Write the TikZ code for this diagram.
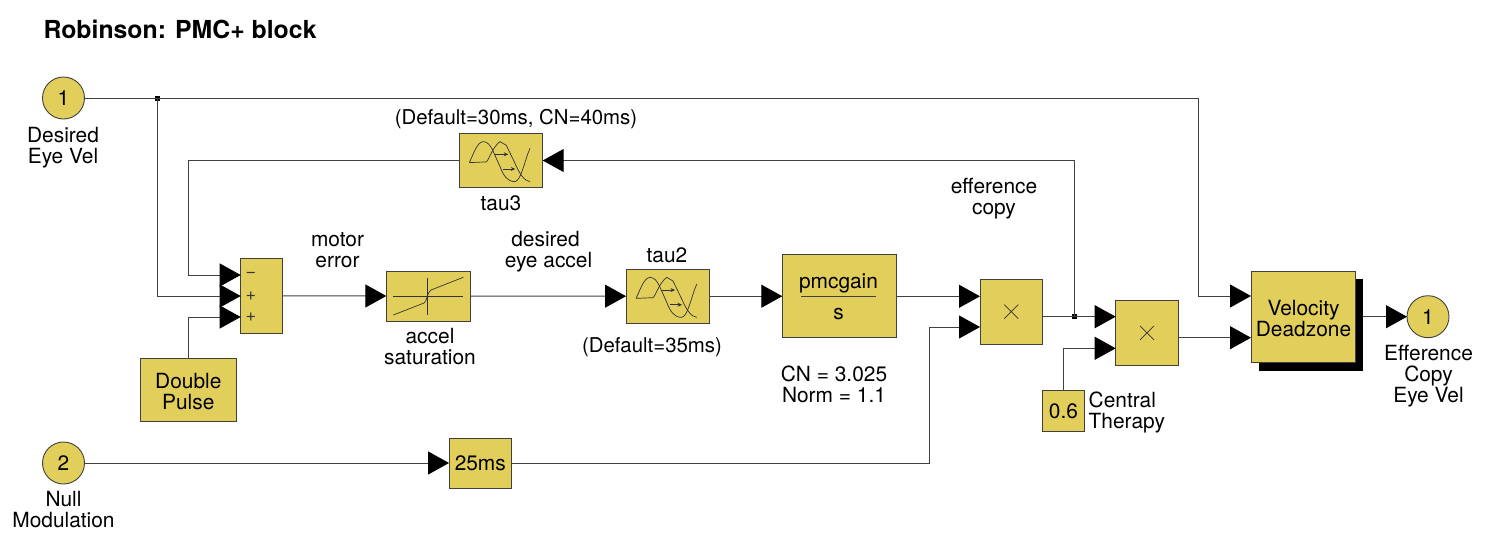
\documentclass[tikz,border=0pt]{standalone}
\usepackage{fontspec}
\setmainfont{TeX Gyre Heros}
\usetikzlibrary{arrows.meta,calc}
\definecolor{blockfill}{HTML}{E2CF5B}
\definecolor{wirecol}{HTML}{404040}
\tikzset{
  wire/.style={draw=wirecol,line width=1pt},
  feed/.style={wire,-{Triangle[length=21pt,width=23pt,fill=black,color=black]}},
  blockbox/.style={draw=wirecol,fill=blockfill,line width=0.9pt,rectangle,inner sep=0pt,outer sep=0pt,
     font=\fontsize{20.9}{21}\selectfont,align=center,text=black},
  portcircle/.style={blockbox,circle,minimum size=42pt},
  note/.style={inner sep=0pt,outer sep=0pt,font=\fontsize{20.9}{21}\selectfont,align=center,text=black},
  paramnote/.style={note,font=\fontsize{20.4}{21}\selectfont},
  icon/.style={draw=wirecol!80!black,line width=0.7pt},
  dotjoin/.style={fill=black,rectangle,minimum size=5pt,inner sep=0pt,outer sep=0pt},
  tinytip/.style={icon,-{Stealth[length=4.5pt,width=4pt]}},
  pics/delayicon/.style={code={
    \draw[icon] (10,29.3) -- (15.7,16.7) .. controls (18,12) and (21,8.3) .. (24,8.3) .. controls (28,8.3) and (31,12) .. (33.3,16.7)
      -- (40.7,33.3) .. controls (44,42) and (48,48.5) .. (55.7,48.3) .. controls (62,47) and (65,28) .. (70.7,15);
    \draw[icon] (10,29.3) -- (27,28.6) .. controls (30,26) and (33,14) .. (40.7,8.3)
      -- (47,12) -- (55.7,30) .. controls (60,40) and (65,48) .. (70.7,48.3);
    \draw[tinytip] (35.7,21) -- (49,21);
    \draw[tinytip] (44,35.7) -- (56,35.7);
  }},
  pics/crossicon/.style={code={
    \draw[icon] (-7,-7) -- (7,7) (-7,7) -- (7,-7);
  }}
}
\begin{document}
\begin{tikzpicture}[x=1pt,y=-1pt]
\useasboundingbox[fill=white] (0,0) rectangle (1500,544);

\node[inner sep=0pt,anchor=west,font=\fontsize{24.8}{26}\selectfont\bfseries] (title) at (43.3,29) {Robinson: PMC+ block};

% shadow first
\node[fill=black,inner sep=0pt,outer sep=0pt,minimum width=104pt,minimum height=91.7pt] (vshadow) at (1311.3,325.2) {};

% ports and blocks
\node[portcircle] (inA) at (63.5,98) {1};
\node[portcircle] (inB) at (63.5,463) {2};
\node[portcircle] (outA) at (1428,316.7) {1};
\node[blockbox,minimum width=41.3pt,minimum height=74.3pt] (sum) at (261.4,295.9) {};
\node[blockbox,minimum width=96pt,minimum height=62.3pt] (dpulse) at (188.7,389.9) {};
\node[note] (dpulseT) at (188.3,391.5) {Double\\Pulse};
\node[blockbox,minimum width=83.4pt,minimum height=54.4pt] (tauC) at (501,160.5) {};
\node[blockbox,minimum width=83.7pt,minimum height=50pt] (sat) at (428.2,296) {};
\node[blockbox,minimum width=83.3pt,minimum height=54.3pt] (tauB) at (667.7,296.2) {};
\node[blockbox,minimum width=114.4pt,minimum height=83pt] (gain) at (839.5,296.2) {};
\node[blockbox,minimum width=62.7pt,minimum height=64.7pt] (prodA) at (1011.3,311.6) {};
\node[blockbox,minimum width=62.6pt,minimum height=64.3pt] (prodB) at (1147,332.8) {};
\node[blockbox,minimum width=41.6pt,minimum height=41.7pt] (const) at (1063.5,410.8) {0.6};
\node[blockbox,minimum width=104.3pt,minimum height=91.7pt] (vdz) at (1303.2,316.8) {};
\node[note] (vdzT) at (1303.5,319) {Velocity\\Deadzone};
\node[blockbox,minimum width=62.5pt,minimum height=50pt] (delay) at (480.3,463) {25ms};

% block interiors
\pic at (tauC.north west) {delayicon};
\pic at (tauB.north west) {delayicon};
\pic at (prodA.center) {crossicon};
\pic at (prodB.center) {crossicon};
\draw[icon] (392.7,296) -- (463,296) (427.7,277.7) -- (427.7,315);
\draw[icon] (393.3,315) -- (424,303) .. controls (427,302) and (427,292) .. (431,290) -- (463.3,277.3);
\draw[wirecol,line width=0.9pt] (801.3,296) -- (875.7,296);
\node[note] (gainT) at (838.5,283) {pmcgain};
\node[note] (gainB) at (838.5,314) {s};
\node[note,text=wirecol!85!black,font=\fontsize{18}{18}\selectfont] (sm) at (251,274.5) {\textminus};
\node[note,text=wirecol!85!black,font=\fontsize{18}{18}\selectfont] (sp) at (251,296) {+};
\node[note,text=wirecol!85!black,font=\fontsize{18}{18}\selectfont] (sq) at (251,317) {+};

% junctions and ports
\coordinate (jTop) at (157,98);
\coordinate (cTop) at (1198.5,98);
\node[dotjoin] (jA) at (jTop) {};
\node[dotjoin] (jB) at (1074,316.7) {};
\coordinate (sumM) at (240.7,275);
\coordinate (sumP) at (240.7,296);
\coordinate (sumQ) at (240.7,317);
\coordinate (pA1) at (980,296.3);
\coordinate (pA2) at (980,327);
\coordinate (pB1) at (1115.7,316.7);
\coordinate (pB2) at (1115.7,348.3);
\coordinate (vd1) at (1251,296);
\coordinate (vd2) at (1251,337.7);
\coordinate (fbR) at (1074,160.5);
\coordinate (fbL) at (188.5,160.5);
\coordinate (dlyR) at (929,463);

% connectors
\draw[wire] (inA.east) -- (jA.center);
\draw[feed] (jA.center) -- (cTop) |- (vd1);
\draw[feed] (jA.center) |- (sumP);
\draw[feed] (tauC.west) -- (fbL) |- (sumM);
\draw[feed] (dpulse.north) |- (sumQ);
\draw[feed] (sum.east) -- (sat.west);
\draw[feed] (sat.east) -- (tauB.west);
\draw[feed] (tauB.east) -- (gain.west);
\draw[feed] (gain.east |- pA1) -- (pA1);
\draw[feed] (inB.east) -- (delay.west);
\draw[feed] (delay.east) -- (dlyR) |- (pA2);
\draw[wire] (prodA.east |- jB) -- (jB.center);
\draw[feed] (jB.center) -- (pB1);
\draw[feed] (jB.center) -- (fbR) -- (tauC.east);
\draw[feed] (const.north) |- (pB2);
\draw[feed] (prodB.east |- vd2) -- (vd2);
\draw[feed] (vshadow.east |- outA) -- (outA.west);

% labels
\node[note] (lA) at (63,147.5) {Desired\\Eye Vel};
\node[note] (lB) at (63.5,509.5) {Null\\Modulation};
\node[note] (lC) at (1428.5,376) {Efference\\Copy\\Eye Vel};
\node[paramnote] (lD) at (516,119.5) {(Default=30ms, CN=40ms)};
\node[note] (lE) at (501,203.5) {tau3};
\node[note] (lF) at (994,199) {efference\\copy};
\node[note] (lG) at (337.5,250) {motor\\error};
\node[note] (lH) at (548.5,252) {desired\hspace*{6pt}\\eye accel};
\node[note] (lI) at (430,346.5) {accel\\saturation};
\node[note] (lJ) at (667,255) {tau2};
\node[paramnote] (lK) at (652,347) {(Default=35ms)};
\node[note] (lL) at (834,384) {CN = 3.025\\Norm = 1.1};
\node[note,align=left,anchor=west] (lM) at (1088.7,412.5) {Central\\Therapy};
\end{tikzpicture}
\end{document}
